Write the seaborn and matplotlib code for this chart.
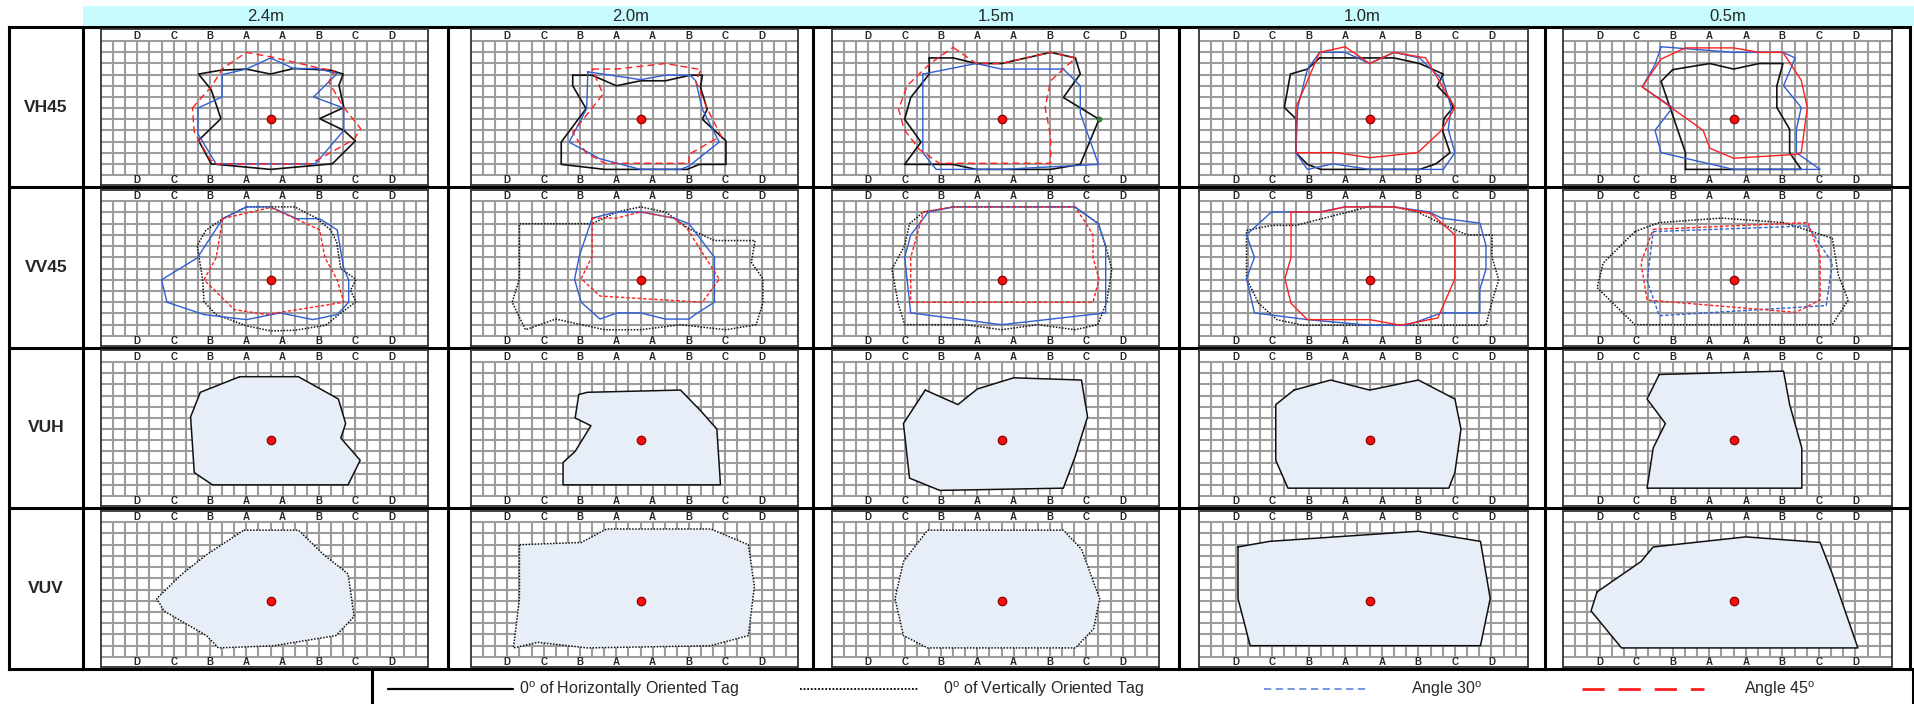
import matplotlib
matplotlib.use('Agg')
import matplotlib.pyplot as plt
import seaborn as sns
import pandas as pd

sns.set_style('white')
plt.rcParams['font.family'] = ['Liberation Sans', 'DejaVu Sans']
plt.rcParams['mathtext.fontset'] = 'custom'
plt.rcParams['mathtext.rm'] = 'Liberation Sans'

distances = ['2.4m', '2.0m', '1.5m', '1.0m', '0.5m']
row_names = ['VH45', 'VV45', 'VUH', 'VUV']
zone_labels = ['D', 'C', 'B', 'A', 'A', 'B', 'C', 'D']
zone_x = [3, 6, 9, 12, 15, 18, 21, 24]
reader = (14, 5)

# VH45 - tag at 45 deg, horizontal
vh45_black = [
    [(9.1,1.0),(8.05,3.1),(9.9,5.05),(9.1,7.65),(8.05,9.05),(9.9,9.4),(12,9.5),(14,9.05),(15.9,9.55),(18.95,9.4),(20,9.05),(19.65,8.05),(20.05,6.05),(18.05,5.05),(20.05,4.0),(21.0,3.05),(19.1,1.0),(14,0.5)],
    [(8.4,8.95),(10.0,8.95),(12.0,8.0),(14,8.45),(16.05,8.45),(18.1,8.95),(19.1,8.95),(18.95,7.85),(19.5,5.9),(19.1,5.0),(21.05,3.05),(21.05,0.95),(18.85,0.95),(17.85,0.5),(11.05,0.5),(7.45,0.95),(7.45,2.95),(9.5,5.95),(8.4,8.0)],
    [(8.03,10.5),(10,10.5),(11.9,10.0),(14,10.0),(18.05,11.0),(20.1,10.5),(20.5,9.05),(19.1,6.95),(22.05,5.0),(20.5,0.95),(18.05,0.5),(11.9,0.5),(10,0.95),(6.0,0.95),(7.35,2.95),(6.0,5.0),(6.5,6.95),(8.03,9.05)],
    [(9.9,10.5),(16,10.5),(18.1,10.0),(20.05,9.05),(19.55,8.0),(20.6,6.8),(20.85,6.05),(20.1,5.05),(20.0,3.95),(20.6,2.0),(19.45,1.0),(18.1,0.5),(10.0,0.5),(8.9,0.95),(7.95,2.0),(7.95,5.05),(7.0,6.05),(7.5,9.05),(8.9,9.5)],
    [(9.0,9.45),(12.05,10.0),(14,9.5),(16.1,10.0),(18.05,10.0),(17.55,8.0),(17.55,6.05),(18.6,4.1),(18.6,2.0),(19.55,0.5),(10.05,0.5),(10.05,2.0),(8.05,8.4)],
]
vh45_blue = [
    [(8,6.0),(10,7.0),(10,9.0),(12,9.5),(14,10.5),(15.9,9.55),(17.8,9.55),(19.5,9.1),(17.55,7.0),(20.05,6.0),(20.05,4.0),(17.7,1.0),(9.5,1.0),(8,3.7)],
    [(9.65,9.25),(14,8.55),(16.05,8.95),(18.1,8.95),(18.55,8.45),(19.1,5.9),(20.5,2.95),(18,0.8),(17.3,0.5),(14,0.5),(10.65,1.45),(8.1,2.95),(9.55,5.95)],
    [(7.5,9.05),(11.9,10.0),(14,9.5),(19.1,9.5),(20.5,8.0),(20.5,5.55),(22,0.95),(14,0.5),(8.6,0.5),(7.5,2.0)],
    [(9.9,11.0),(12,11.0),(14,10.0),(16,11.0),(18.1,10.5),(20.05,8.45),(20.7,6.05),(20.45,4.1),(21,2.0),(20.05,0.5),(14,0.5),(11,1.0),(8.9,0.5),(7.95,2.0),(8.1,6.05),(8.9,9.5)],
    [(8.05,11.5),(14,11.0),(18.05,11.0),(19.05,10.5),(18.1,8.0),(19.55,6.05),(19.15,4.1),(19.15,2.0),(21.1,0.5),(14,0.5),(8.05,2.0),(7.55,4.0),(9.0,6.05),(6.5,7.9),(7.55,9.9)],
]
vh45_red = [
    [(7.55,6.0),(8.1,6.7),(9.1,7.9),(10.05,9.55),(12,11),(14,10.6),(16,10.1),(18,9.6),(19.3,9.35),(18.8,8.35),(20.05,6.05),(21.45,4.15),(20.9,3.2),(17.55,1.15),(17.3,1.0),(9.5,1.0),(8.95,1.45),(7.7,3.85)],
    [(10,9.5),(12,9.5),(16.05,10.0),(19,9.45),(18.55,8.45),(19.5,5.95),(20.65,3.5),(18,1.85),(18,1.05),(11.05,1.05),(9.5,2.0),(8.4,3.8),(10.9,7.25)],
    [(10,11.45),(11.9,10.0),(14,10.0),(18.05,11.0),(20.1,10.5),(18.05,8.45),(17.6,6.05),(18.05,3.5),(18.05,1.05),(8.85,1.05),(7.2,2.3),(5.95,4.1),(5.5,5.9),(6.2,8.0),(8.05,9.95)],
    [(9.9,11.0),(12,11.5),(14,10.0),(16,11.0),(18.6,10.5),(21,6.05),(19.9,4.0),(17.95,2.0),(14,1.55),(11.3,2.0),(7.95,2.0),(7.95,6.05)],
    [(6.5,7.9),(8.05,10.4),(10.05,11.4),(14,11.4),(16.1,11.0),(18.05,11.0),(19.55,8.5),(20.05,6.05),(19.55,2.0),(19.15,1.85),(14,1.5),(12.05,2.4),(11.5,4.0)],
]
vh45_red_style = ['dash', 'dash', 'dash', 'solid', 'solid']

# VV45 - tag at 45 deg, vertical
vv45_black = [
    [(14.1,11.5),(16.0,11.5),(17.8,10.5),(18.95,9.45),(19.45,8.4),(19.8,6.0),(21.05,5.05),(20.6,4.05),(21.05,3.05),(19.65,1.9),(18.55,0.95),(16,0.5),(14,0.45),(12,0.9),(9.5,1.9),(8.5,3.05),(8.4,4.95),(8.1,7.0),(7.95,8.05),(8.65,9.4),(10.05,10.45),(12,11.5)],
    [(4.0,10.0),(10.0,10.0),(12.05,11.05),(14,11.5),(16.05,11.05),(18.0,9.55),(20.1,8.5),(23.45,8.5),(23.15,6.55),(24.1,5.1),(24.1,2.95),(23.55,1.0),(21.05,0.55),(17.3,1.0),(14,0.55),(11.05,0.55),(7.0,1.5),(4.5,0.55),(3.4,3.0),(4.0,5.1)],
    [(7.55,11.05),(10.05,11.5),(20.05,11.5),(22.0,10.0),(22.7,7.6),(23.1,5.95),(22.7,3.1),(21.95,1.0),(20.05,0.55),(17.0,1.0),(14,0.55),(11.0,1.0),(6.0,1.0),(5.45,2.95),(4.95,5.95),(6.0,8.05),(6.4,10.0)],
    [(3.9,9.4),(5.95,9.85),(7.95,9.85),(14.05,11.55),(16.0,11.5),(17.95,11.05),(19.9,10.0),(22.0,9.0),(24.05,9.0),(24.05,7.0),(24.6,5.0),(24.05,3.1),(23.55,0.95),(8.5,0.95),(6.4,1.45),(4.9,2.9),(3.9,5.1)],
    [(5.9,9.3),(7.9,10.1),(13.0,10.5),(18.1,10.1),(22.1,8.7),(22.6,5.4),(23.4,3.2),(22.1,1.0),(5.9,1.0),(2.8,4.3),(3.3,6.5)],
]
vv45_blue = [
    [(12,11.5),(14,11.5),(16.15,10.45),(18.05,10.45),(19.5,9.45),(20.05,6.0),(20.45,5.0),(20.45,3.0),(19.5,1.9),(17.5,1.45),(14.8,2.05),(12,1.45),(8.5,1.9),(5.45,3.0),(5.0,5.0),(7.95,6.95),(10.05,10.45)],
    [(10.0,10.5),(12.05,11.05),(14,11.05),(16.75,10.5),(18.0,10.0),(20.1,7.0),(20.1,3.0),(18.7,2.05),(18.0,1.5),(16.05,1.5),(14,2.05),(12.05,2.05),(10.65,1.5),(9.1,3.0),(8.55,5.05),(8.95,7.15)],
    [(7.95,11.05),(10.05,11.5),(20.05,11.5),(22.0,10.0),(22.6,8.05),(22.6,2.05),(14,1.0),(6.5,2.05),(6.0,7.0),(6.5,9.0)],
    [(3.9,9.0),(5.95,11.05),(9.9,11.05),(12.0,11.5),(16.0,11.5),(18.9,11.05),(19.9,10.5),(23.05,10.05),(23.55,8.05),(23.55,5.95),(23.05,4.15),(23.05,2.05),(19.9,2.05),(17.1,0.95),(14,0.95),(8.9,1.45),(4.55,2.05),(3.9,5.1),(4.55,7.0)],
    [(7.4,9.3),(20.1,9.8),(22.1,6.5),(21.6,2.7),(7.9,1.8),(6.9,4.9)],
]
vv45_blue_style = ['solid', 'solid', 'solid', 'solid', 'fine']
vv45_red = [
    [(10.05,10.45),(14,11.45),(16.15,10.4),(18.05,9.45),(18.5,6.95),(19.5,5.0),(20.05,3.0),(13.65,1.9),(11.0,2.35),(8.5,5.0),(9.5,6.95)],
    [(10.0,10.5),(12.05,10.5),(14,11.05),(16.75,10.5),(17.85,9.55),(20.5,5.05),(19.1,3.0),(10.65,3.55),(9.1,5.1),(10.0,7.1)],
    [(7.55,11.05),(10.05,11.5),(20.05,11.5),(21.0,10.0),(21.55,9.0),(21.55,7.0),(22.05,5.05),(21.55,3.0),(6.5,3.0),(6.5,7.0)],
    [(7.55,11.05),(10.05,11.05),(12.0,11.5),(16.0,11.5),(19.05,10.9),(21.0,9.0),(21.0,5.1),(19.6,1.6),(16.55,0.95),(14,1.45),(8.9,1.45),(7.55,2.9),(7.05,5.1),(7.55,7.0)],
    [(7.4,9.5),(20.1,10.1),(21.1,7.1),(21.1,3.2),(19.1,2.1),(6.9,3.2),(6.4,6.5)],
]
vv45_red_style = ['fine', 'fine', 'fine', 'solid', 'fine']

# VUH / VUV - upright tags, read areas
vuh_area = [
    [(11.45,10.7),(16.3,10.7),(19.6,8.7),(20.2,6.5),(19.8,5.2),(21.4,3.2),(20.4,1.0),(9.2,1.0),(7.7,2.1),(7.4,7.1),(8.2,9.3)],
    [(8.9,9.1),(9.6,9.3),(17.3,9.5),(19.0,7.6),(20.3,6.0),(20.6,1.0),(7.6,1.0),(7.6,3.0),(8.6,4.0),(9.9,6.3),(8.6,7.0)],
    [(7.7,9.5),(10.4,8.2),(12.0,9.6),(15,10.6),(20.6,10.4),(21.1,7.1),(20.1,3.6),(19.1,0.7),(8.9,0.5),(6.4,1.6),(5.9,6.5)],
    [(7.8,9.5),(10.8,10.4),(14,9.5),(18,10.4),(21,8.7),(21.5,6.0),(21,2.1),(20.5,0.7),(7.3,0.7),(6.3,3.2),(6.3,8.2)],
    [(7.9,10.9),(18.1,11.2),(18.6,8.2),(19.6,4.3),(19.6,0.7),(6.9,0.7),(7.4,4.3),(8.4,6.5),(6.9,8.7)],
]
vuv_area = [
    [(11.8,11.3),(16.3,11.3),(18.4,9.1),(20.4,7.4),(20.9,3.6),(19.4,1.9),(14.3,1.0),(9.7,0.8),(8.7,1.9),(5.2,4.1),(4.6,5.2),(6.7,7.4),(8.7,9.1)],
    [(4.0,10.0),(9.1,10.2),(11.2,11.4),(19.8,11.4),(22.9,10.0),(23.4,6.3),(22.9,1.9),(19.8,1.0),(9.6,0.8),(5.5,1.3),(3.5,0.8),(4.0,5.2)],
    [(7.9,11.3),(19.1,11.3),(20.6,9.6),(22.1,5.2),(21.6,2.5),(20.1,0.8),(7.9,0.8),(5.9,1.9),(5.2,5.2),(5.9,8.5)],
    [(3.2,9.8),(5.8,10.3),(18,11.2),(23.1,10.3),(23.9,5.2),(23.1,1.0),(4.2,1.0),(3.2,5.2)],
    [(2.8,5.8),(6.4,8.5),(7.4,9.8),(15,10.7),(21.1,10.2),(22.1,7.4),(24.2,0.8),(4.8,0.8),(2.3,4.1)],
]
vuv_style = ['dot', 'dot', 'dot', 'solid', 'solid']
extra_point = (22.05, 5.0)  # green mark, VH45 1.5m

legend_labels = ['0$^{\\mathrm{o}}$ of Horizontally Oriented Tag',
                 '0$^{\\mathrm{o}}$ of Vertically Oriented Tag',
                 'Angle 30$^{\\mathrm{o}}$', 'Angle 45$^{\\mathrm{o}}$']

BLACK = '#111111'
BLUE = '#2f5fd3'
RED = '#ff1f1f'
FILL = '#e8eef8'
LS = {'solid': '-', 'dash': (0, (5, 3)), 'fine': (0, (2.5, 1.5)), 'dot': (0, (1, 1))}

W, H = 1915, 704
fig = plt.figure(figsize=(W / 100, H / 100), dpi=100)
fig.patch.set_facecolor('white')

# frame axes in pixel coordinates
frame = fig.add_axes([0, 0, 1, 1])
frame.set_xlim(0, W)
frame.set_ylim(H, 0)
frame.axis('off')

col_lines = [83, 448, 813, 1179, 1545, 1910]
row_lines = [27, 187, 348, 508, 669]
frame.add_patch(plt.Rectangle((83, 6), W - 83, 20, color='#c8fbfd', lw=0))
for i, d in enumerate(distances):
    frame.text((col_lines[i] + col_lines[i + 1]) / 2, 16.5, d, ha='center', va='center', fontsize=12)
for y in row_lines:
    frame.plot([9, 1910 if y != 669 else W], [y, y], color='black', lw=2.2, solid_capstyle='projecting')
for x in [9] + col_lines:
    frame.plot([x, x], [27, 669], color='black', lw=2.2, solid_capstyle='projecting')
for i, r in enumerate(row_names):
    frame.text(46, (row_lines[i] + row_lines[i + 1]) / 2, r, ha='center', va='center', fontsize=12.5, fontweight='bold')

# legend strip
frame.plot([372, 372], [669, H], color='black', lw=2.2)
frame.plot([W - 2, W - 2], [669, H], color='black', lw=2.2)
ly = 689
sns.lineplot(x=[388, 513], y=[ly, ly], color='black', lw=1.6, ax=frame)
frame.text(519, ly, legend_labels[0], va='center', fontsize=11.5)
sns.lineplot(x=[800, 918], y=[ly, ly], color='black', lw=1.3, linestyle=(0, (1, 1)), ax=frame)
frame.text(943, ly, legend_labels[1], va='center', fontsize=11.5)
sns.lineplot(x=[1264, 1368], y=[ly, ly], color='#6b8fdc', lw=1.3, linestyle=(0, (4, 2.5)), ax=frame)
frame.text(1411, ly, legend_labels[2], va='center', fontsize=11.5)
sns.lineplot(x=[1582, 1704], y=[ly, ly], color=RED, lw=2.0, linestyle=(0, (8, 5)), ax=frame)
frame.text(1744, ly, legend_labels[3], va='center', fontsize=11.5)

panel_x = [(101, 428), (471, 798), (832, 1159), (1199, 1528), (1563, 1892)]


def outline(ax, pts, color, style, lw):
    df = pd.DataFrame(list(pts) + [pts[0]], columns=['x', 'y'])
    sns.lineplot(data=df, x='x', y='y', sort=False, estimator=None, color=color,
                 lw=lw, linestyle=LS[style], ax=ax, zorder=4)


for r in range(4):
    top = row_lines[r] + 2.5
    bot = row_lines[r + 1] - 2
    for c in range(5):
        x0, x1 = panel_x[c]
        ax = fig.add_axes([x0 / W, 1 - bot / H, (x1 - x0) / W, (bot - top) / H])
        ax.set_xlim(0, 27)
        ax.set_ylim(-0.9, 13.05)
        ax.set_xticks([])
        ax.set_yticks([])
        ax.set_facecolor('white')
        for s in ax.spines.values():
            s.set_color('#333333')
            s.set_linewidth(1.3)
        ax.vlines(range(1, 27), 0, 12, color='#9c9c9c', lw=1.5, zorder=1)
        ax.hlines(range(0, 13), 0, 27, color='#9c9c9c', lw=1.5, zorder=1)
        for lx, lab in zip(zone_x, zone_labels):
            ax.text(lx, 12.5, lab, ha='center', va='center', fontsize=7, fontweight='bold')
            ax.text(lx, -0.42, lab, ha='center', va='center', fontsize=7, fontweight='bold')

        if r == 0:
            outline(ax, vh45_black[c], BLACK, 'solid', 1.2)
            outline(ax, vh45_blue[c], BLUE, 'solid', 1.0)
            outline(ax, vh45_red[c], RED, vh45_red_style[c], 1.0)
            if c == 2:
                sns.scatterplot(x=[extra_point[0]], y=[extra_point[1]], color='#2e8b2e', s=14,
                                edgecolor='#114411', ax=ax, zorder=6)
        elif r == 1:
            outline(ax, vv45_black[c], BLACK, 'dot', 1.1)
            outline(ax, vv45_blue[c], BLUE, vv45_blue_style[c], 1.0)
            outline(ax, vv45_red[c], RED, vv45_red_style[c], 1.0)
        else:
            pts = vuh_area[c] if r == 2 else vuv_area[c]
            style = 'solid' if r == 2 else vuv_style[c]
            ax.fill([p[0] for p in pts], [p[1] for p in pts], color=FILL, zorder=3, lw=0)
            outline(ax, pts, BLACK, style, 1.1)

        sns.scatterplot(x=[reader[0]], y=[reader[1]], color='#ff0a0a', s=38,
                        edgecolor='#7a0000', linewidth=0.8, ax=ax, zorder=7)
        ax.set_xlabel('')
        ax.set_ylabel('')

fig.savefig('out.png', dpi=100, facecolor='white')
